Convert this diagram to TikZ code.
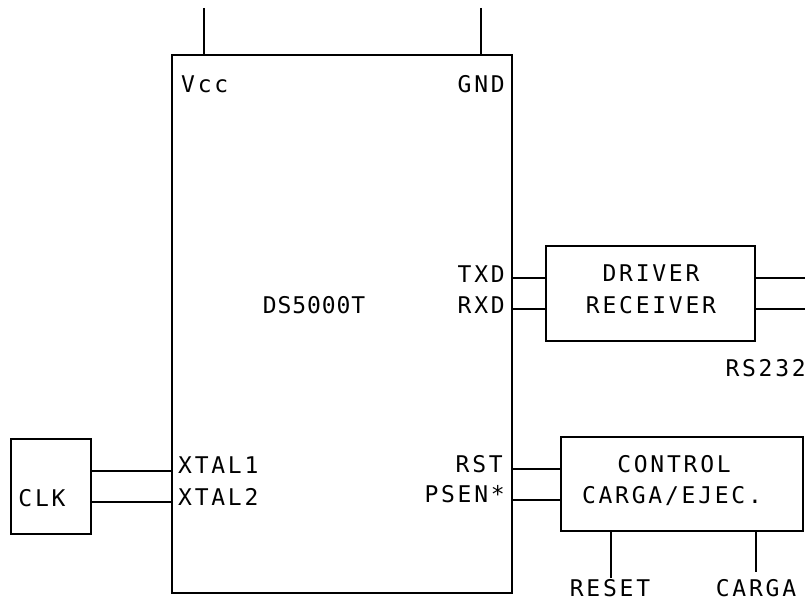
\documentclass[tikz,border=0pt]{standalone}
\usepackage{fontspec}
\newfontfamily\plotfont[LetterSpace=12]{DejaVu Sans Mono}
\newfontfamily\plotfontn[LetterSpace=4]{DejaVu Sans Mono}
\begin{document}
\begin{tikzpicture}[x=1pt,y=-1pt,
  lbl/.style={inner sep=0pt,font=\plotfont\fontsize{23}{23}\selectfont},
  wire/.style={line width=1.3pt},
  blk/.style={draw,line width=1.3pt}]
\useasboundingbox (0,0) rectangle (805,602);
% main chip
\draw[blk] (172,55) rectangle (512,593);
\node (chip) at (314,305) [inner sep=0pt,font=\plotfontn\fontsize{23}{23}\selectfont] {DS5000T};
% power pins
\coordinate (vcct) at (204,8); \coordinate (vccb) at (204,55);
\coordinate (gndt) at (481,8); \coordinate (gndb) at (481,55);
\draw[wire] (vcct) -- (vccb);
\draw[wire] (gndt) -- (gndb);
\node[lbl,anchor=west] (vcc) at (181,84) {Vcc};
\node[lbl,anchor=east] (gnd) at (505,84) {GND};
% driver
\node[blk,minimum width=209pt,minimum height=95pt,inner sep=0pt] (drv) at (650.5,293.5) {};
\node[lbl] (drv1) at (651,273) {DRIVER};
\node[lbl] (drv2) at (651,305) {RECEIVER};
\node[lbl,anchor=east] (txd) at (505,274) {TXD};
\node[lbl,anchor=east] (rxd) at (505,305) {RXD};
\draw[wire] (512,278) -- (drv.west |- 0,278);
\draw[wire] (512,309) -- (drv.west |- 0,309);
\coordinate (o1) at (805,278); \coordinate (o2) at (805,309);
\draw[wire] (drv.east |- o1) -- (o1);
\draw[wire] (drv.east |- o2) -- (o2);
\node[lbl,anchor=east] (rs) at (806,368) {RS232};
% clk
\node[blk,minimum width=80pt,minimum height=95pt,inner sep=0pt] (clk) at (51,486.5) {};
\node[lbl] (clkt) at (42,498) {CLK};
\node[lbl,anchor=west] (x1) at (178,465) {XTAL1};
\node[lbl,anchor=west] (x2) at (178,497) {XTAL2};
\draw[wire] (clk.east |- 0,471) -- (172,471);
\draw[wire] (clk.east |- 0,502) -- (172,502);
% control
\node[blk,minimum width=242pt,minimum height=94pt,inner sep=0pt] (ctl) at (682,484) {};
\node[lbl] (c1) at (674,464) {CONTROL};
\node[lbl] (c2) at (672,496) {CARGA/EJEC.};
\node[lbl,anchor=east] (rst) at (503,464) {RST};
\node[lbl,anchor=east] (psen) at (505,494) {PSEN*};
\draw[wire] (512,469) -- (ctl.west |- 0,469);
\draw[wire] (512,500) -- (ctl.west |- 0,500);
\coordinate (rb) at (611,578); \coordinate (cb) at (756,572);
\draw[wire] (ctl.south -| rb) -- (rb);
\draw[wire] (ctl.south -| cb) -- (cb);
\node[lbl] (reset) at (610,588) {RESET};
\node[lbl] (carga) at (756,588) {CARGA};
\end{tikzpicture}
\end{document}
